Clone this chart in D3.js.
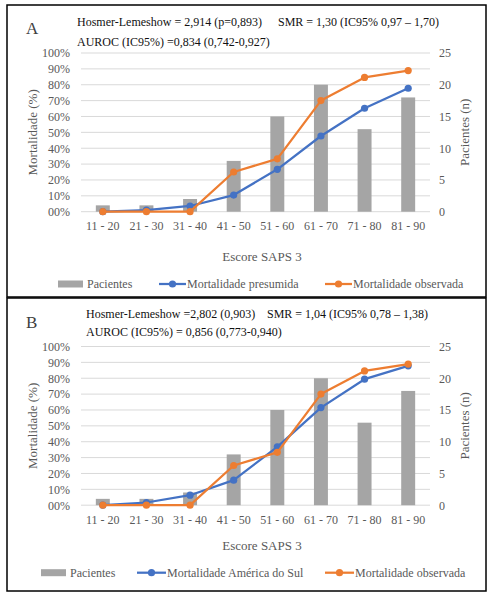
<!DOCTYPE html>
<html>
<head>
<meta charset="utf-8">
<script src="https://cdn.jsdelivr.net/npm/d3@7"></script>
<style>
  body { margin: 0; background: #fff; }
</style>
</head>
<body>
<div id="chart"></div>
<script>
var categories = ["11 - 20", "21 - 30", "31 - 40", "41 - 50", "51 - 60", "61 - 70", "71 - 80", "81 - 90"];
var pacientes = [1, 1, 2, 8, 15, 20, 13, 18];
var mortObservada = [0, 0, 0, 25, 33.3, 70, 84.6, 88.9];
var mortPresumida = [0, 1, 3.6, 10.5, 26.7, 47.7, 65.2, 77.8];
var mortAmericaSul = [0, 1.7, 6.3, 15.8, 36.8, 61.5, 79.4, 87.8];
var pctTicks = [0, 10, 20, 30, 40, 50, 60, 70, 80, 90, 100];
var nTicks = [0, 5, 10, 15, 20, 25];

var svgWidth = 492;
var svgHeight = 598;
var serif = "'Liberation Serif', 'DejaVu Serif', serif";

var svg = d3.select("#chart").append("svg")
    .attr("width", svgWidth)
    .attr("height", svgHeight)
    .style("font-family", serif);

var gray = "#595959";
var blue = "#4472C4";
var orange = "#ED7D31";
var barColor = "#A5A5A5";

var panels = [
    {
        letter: "A", top: 0, box: [7, 5, 479, 292],
        hl: "Hosmer-Lemeshow = 2,914 (p=0,893)", hlX: 77, smr: "SMR = 1,30 (IC95% 0,97 \u2013 1,70)", smrX: 278,
        auroc: "AUROC (IC95%) =0,834 (0,742-0,927)", row1: 26, row2: 46,
        line: mortPresumida, lineName: "Mortalidade presumida",
        titleY: 261, legendY: 284,
        legend: { bar: 58, blue: 159, blueText: 187, orange: 325, orangeText: 353 }
    },
    {
        letter: "B", top: 293.5, box: [7, 298, 479, 293],
        hl: "Hosmer-Lemeshow =2,802 (0,903)", hlX: 86, smr: "SMR = 1,04 (IC95% 0,78 \u2013 1,38)", smrX: 267,
        auroc: "AUROC (IC95%) = 0,856 (0,773-0,940)", row1: 24.5, row2: 42.5,
        line: mortAmericaSul, lineName: "Mortalidade Am\u00e9rica do Sul",
        titleY: 256.5, legendY: 279.2,
        legend: { bar: 41, blue: 137, blueText: 167, orange: 325, orangeText: 355 }
    }
];

function drawPanel(p) {
    var g = svg.append("g").attr("transform", `translate(0, ${p.top})`);

    var x = d3.scaleBand()
        .domain(categories)
        .range([81, 430])
        .paddingInner(0.68)
        .paddingOuter(0.34);
    var xc = d => x(d) + x.bandwidth() / 2;

    var y = d3.scaleLinear().domain([0, 100]).range([211.7, 53]);
    var yR = d3.scaleLinear().domain([0, 25]).range([211.7, 53]);

    // header
    g.append("text").attr("x", 26).attr("y", 34)
        .attr("font-size", "17px").attr("fill", "#404040").text(p.letter);
    g.append("text").attr("x", p.hlX).attr("y", p.row1)
        .attr("font-size", "12px").attr("fill", "#111").text(p.hl);
    g.append("text").attr("x", p.smrX).attr("y", p.row1)
        .attr("font-size", "12px").attr("fill", "#111").text(p.smr);
    g.append("text").attr("x", p.hlX).attr("y", p.row2)
        .attr("font-size", "12px").attr("fill", "#111").text(p.auroc);

    // gridlines
    g.append("g").selectAll("line")
        .data(pctTicks)
        .enter()
        .append("line")
        .attr("x1", 81).attr("x2", 430)
        .attr("y1", d => y(d)).attr("y2", d => y(d))
        .attr("stroke", "#D9D9D9").attr("stroke-width", 1);

    // left axis
    var axisLeft = d3.axisLeft(y).tickValues(pctTicks).tickSize(0).tickPadding(11)
        .tickFormat(d => String(d).padStart(2, "0") + "%");
    var yAxis = g.append("g").attr("transform", "translate(81,0)").call(axisLeft);
    yAxis.select(".domain").remove();

    // right axis
    var axisRight = d3.axisRight(yR).tickValues(nTicks).tickSize(0).tickPadding(9);
    var yAxisR = g.append("g").attr("transform", "translate(430,0)").call(axisRight);
    yAxisR.select(".domain").remove();

    // bottom axis
    var axisBottom = d3.axisBottom(x).tickSize(0).tickPadding(10);
    var xAxis = g.append("g").attr("transform", "translate(0,211.7)").call(axisBottom);
    xAxis.select(".domain").remove();

    [yAxis, yAxisR, xAxis].forEach(function (a) {
        a.attr("font-family", null).attr("font-size", null);
        a.selectAll("text").style("font-size", "12px").style("font-family", serif).attr("fill", gray);
    });

    // axis titles
    g.append("text")
        .attr("transform", `translate(37, ${y(50)}) rotate(-90)`)
        .attr("text-anchor", "middle")
        .attr("font-size", "13px").attr("fill", gray)
        .text("Mortalidade (%)");
    g.append("text")
        .attr("transform", `translate(469, ${y(50)}) rotate(-90)`)
        .attr("text-anchor", "middle")
        .attr("font-size", "13px").attr("fill", gray)
        .text("Pacientes (n)");
    g.append("text")
        .attr("x", 262).attr("y", p.titleY)
        .attr("text-anchor", "middle")
        .attr("font-size", "13px").attr("fill", gray)
        .text("Escore SAPS 3");

    // bars
    g.append("g").selectAll("rect")
        .data(pacientes)
        .enter()
        .append("rect")
        .attr("x", (d, i) => x(categories[i]))
        .attr("width", x.bandwidth())
        .attr("y", d => yR(d))
        .attr("height", d => yR(0) - yR(d))
        .attr("fill", barColor);

    // lines
    var series = [
        { values: p.line, color: blue },
        { values: mortObservada, color: orange }
    ];
    series.forEach(function (s) {
        var line = d3.line()
            .x((d, i) => xc(categories[i]))
            .y(d => y(d));
        g.append("path")
            .datum(s.values)
            .attr("d", line)
            .attr("fill", "none")
            .attr("stroke", s.color)
            .attr("stroke-width", 2.25)
            .attr("stroke-linejoin", "round");
        g.append("g").selectAll("circle")
            .data(s.values)
            .enter()
            .append("circle")
            .attr("cx", (d, i) => xc(categories[i]))
            .attr("cy", d => y(d))
            .attr("r", 3.6)
            .attr("fill", s.color);
    });

    // legend
    var L = p.legend;
    var ly = p.legendY;
    g.append("rect").attr("x", L.bar).attr("y", ly - 3.5).attr("width", 25).attr("height", 7)
        .attr("fill", barColor);
    g.append("text").attr("x", L.bar + 29).attr("y", ly + 4)
        .attr("font-size", "12px").attr("fill", gray).text("Pacientes");

    [[L.blue, L.blueText, blue, p.lineName], [L.orange, L.orangeText, orange, "Mortalidade observada"]]
        .forEach(function (e) {
            g.append("line").attr("x1", e[0]).attr("x2", e[1] - 1)
                .attr("y1", ly).attr("y2", ly)
                .attr("stroke", e[2]).attr("stroke-width", 2.25);
            g.append("circle").attr("cx", (e[0] + e[1] - 1) / 2).attr("cy", ly)
                .attr("r", 3.6).attr("fill", e[2]);
            g.append("text").attr("x", e[1]).attr("y", ly + 4)
                .attr("font-size", "12px").attr("fill", gray).text(e[3]);
        });
}

panels.forEach(drawPanel);

// panel borders
svg.selectAll(".frame")
    .data(panels)
    .enter()
    .append("rect")
    .attr("class", "frame")
    .attr("x", d => d.box[0])
    .attr("y", d => d.box[1])
    .attr("width", d => d.box[2])
    .attr("height", d => d.box[3])
    .attr("fill", "none")
    .attr("stroke", "#000")
    .attr("stroke-width", 1.5);
</script>
</body>
</html>
